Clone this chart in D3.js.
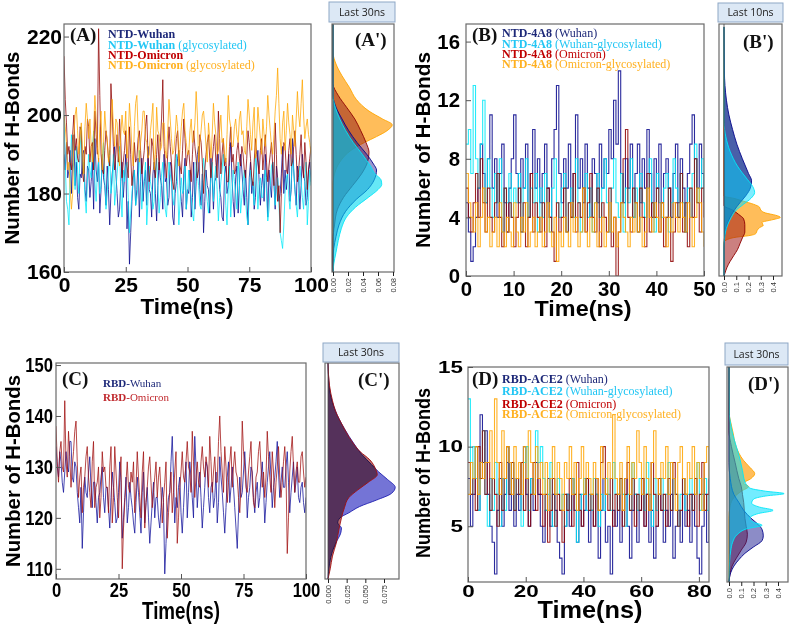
<!DOCTYPE html>
<html><head><meta charset="utf-8">
<script src="https://cdn.jsdelivr.net/npm/d3@7"></script>
<style>body{margin:0;background:#fff}</style>
</head><body><script>
// ===== DATA =====
const timeA = d3.range(0, 201).map(i => i * 0.5);
const timeB = d3.range(0, 101).map(i => i * 0.5);
const timeC = d3.range(0, 201).map(i => i * 0.5);
const timeD = d3.range(0, 101).map(i => i * 0.835);

const xTicksA = [0, 25, 50, 75, 100], yTicksA = [160, 180, 200, 220];
const xTicksB = [0, 10, 20, 30, 40, 50], yTicksB = [0, 4, 8, 12, 16];
const xTicksC = [0, 25, 50, 75, 100], yTicksC = [110, 120, 130, 140, 150];
const xTicksD = [0, 20, 40, 60, 80], yTicksD = [5, 10, 15];
const dTicksA = [0, 0.02, 0.04, 0.06, 0.08];
const dTicksB = [0, 0.1, 0.2, 0.3, 0.4];
const dTicksC = [0, 0.025, 0.05, 0.075];
const dTicksD = [0, 0.1, 0.2, 0.3, 0.4];

// Panel A: NTD H-bonds
const ntdWuhan = [190,186,193,184,186,191,180,188,195,182,188,179,176,185,184,190,191,181,178,187,186,
 179,183,188,176,194,186,183,189,175,181,190,184,182,177,187,181,172,180,185,188,
 192,185,180,174,176,183,188,179,184,190,171,178,162,170,178,184,186,177,181,189,
 174,183,189,178,183,186,177,192,181,180,174,185,188,180,173,182,188,184,182,176,
 190,183,184,177,179,188,187,174,172,180,183,189,191,182,178,174,185,189,176,181,
 180,186,174,179,188,176,183,190,192,181,177,185,170,178,186,182,181,175,189,184,
 176,183,184,190,190,181,179,174,173,185,187,180,182,188,193,184,178,174,184,187,
 175,182,190,186,181,177,186,179,172,184,188,180,183,176,179,187,191,183,177,182,
 185,178,190,184,174,186,182,179,188,183,176,187,184,178,180,185,192,180,186,181,
 185,190,178,181,194,186,181,177,187,184,176,182,190,185,183,177,179,186,188,183];
const ntdWuhanGly = [200,188,178,176,172,185,195,190,186,181,192,186,180,191,197,185,188,179,175,184,190,
 186,184,191,196,183,178,185,188,180,182,189,193,184,176,180,186,191,180,183,190,
 177,181,185,189,192,180,174,186,183,187,188,179,170,175,180,184,186,177,179,182,
 191,184,176,181,184,188,172,178,187,183,181,176,178,185,189,182,175,179,185,188,
 180,176,174,181,188,185,183,179,177,186,190,182,172,178,184,180,181,187,176,180,
 186,181,179,175,173,180,188,185,182,177,176,183,189,186,181,178,175,180,184,188,
 178,184,187,181,173,179,183,186,190,185,177,172,181,187,174,180,186,183,180,176,
 188,183,175,179,183,186,179,174,172,180,186,184,181,177,190,185,176,182,184,179,
 179,183,186,180,173,176,182,187,188,183,177,181,184,178,170,168,166,172,180,184,
 185,179,176,183,189,186,181,177,174,180,187,183,179,176,183,188,172,178,186,182];
const ntdOmicron = [215,204,198,190,192,188,186,195,200,191,194,189,188,197,196,185,183,192,190,199,197,
 188,192,193,186,201,195,190,222,205,190,186,185,191,196,193,189,187,208,201,192,
 186,190,195,188,199,193,184,188,191,196,187,184,197,190,182,186,193,188,189,194,
 196,191,185,188,191,197,200,190,183,186,194,192,188,184,190,195,186,193,199,209,
 192,188,184,190,197,192,188,183,181,189,194,196,190,187,185,191,199,194,187,190,
 191,187,183,190,196,192,189,184,186,195,193,188,180,186,190,193,195,189,184,188,
 192,195,188,184,201,194,185,190,194,187,189,183,183,192,197,188,190,185,186,191,
 193,189,187,192,190,186,184,189,196,193,189,184,182,188,194,190,188,185,191,194,
 186,190,195,188,183,187,190,193,187,182,198,190,178,182,170,180,188,193,192,186,
 185,191,194,187,188,192,196,190,183,186,190,195,187,184,193,188,181,186,189,192];
const ntdOmicronGly = [200,197,193,186,188,181,176,180,195,200,202,196,190,194,198,191,185,197,203,199,194,
 199,192,188,196,205,199,192,188,197,201,186,193,201,196,194,188,190,196,204,197,
 192,199,198,191,187,195,200,196,195,201,189,194,203,198,191,187,197,203,205,196,
 188,193,196,201,201,194,193,189,190,196,199,203,186,190,202,196,195,191,192,198,
 198,191,189,196,204,199,194,190,191,195,200,197,187,192,197,201,203,196,193,190,
 190,196,199,193,194,198,206,200,188,193,196,200,201,197,192,188,198,194,189,195,
 203,198,195,190,191,196,200,193,194,190,188,195,205,199,197,192,192,197,199,195,
 193,199,201,195,196,191,190,197,204,200,195,191,198,202,189,194,202,198,194,190,
 199,195,192,197,205,200,196,192,190,195,201,205,212,203,194,190,198,201,191,196,
 203,198,195,190,200,196,192,199,206,200,197,203,209,200,194,197,199,195,193,190];

// Panel B: NTD-4A8 H-bonds
const b4a8Wuhan = [5,3,1,2,4,6,9,7,5,8,11,
 6,8,4,7,9,5,3,6,8,11,
 7,5,8,6,9,4,7,10,6,8,
 5,7,9,6,4,8,10,13,7,5,
 8,6,9,4,7,11,6,8,5,9,
 6,4,8,7,5,9,6,8,7,10,
 8,12,9,14,7,5,8,6,9,4,
 7,9,5,8,6,10,7,4,8,6,
 9,5,7,8,6,4,7,9,5,8,
 6,3,7,9,11,8,6,9,7,6];
const b4a8WuhanGly = [9,10,7,13,8,6,9,12,5,8,6,
 4,7,5,8,3,6,5,7,4,6,
 5,7,3,6,8,4,6,5,7,3,
 6,4,7,5,3,6,8,5,4,6,
 7,3,5,6,4,8,5,3,6,7,
 4,6,3,5,7,4,6,8,5,3,
 6,8,5,4,7,3,6,5,8,4,
 6,3,7,5,4,6,8,5,3,7,
 5,4,6,7,3,5,8,6,4,7,
 5,3,6,4,7,9,5,6,8,5];
const b4a8Omicron = [6,4,3,5,7,4,8,5,3,6,4,
 3,5,7,4,2,6,3,5,4,2,
 4,6,3,5,2,4,7,3,5,4,
 3,5,2,6,4,3,1,5,3,4,
 6,3,5,4,7,3,5,4,6,3,
 5,7,4,3,6,2,5,4,3,6,
 2,4,0,3,5,8,10,4,3,6,
 5,3,6,4,2,7,3,5,4,6,
 3,5,2,4,6,1,3,5,4,7,
 3,5,2,6,4,8,5,3,6,4];
const b4a8OmicronGly = [7,5,4,3,5,2,4,6,3,4,2,
 3,4,2,5,3,2,4,3,2,5,
 3,2,4,3,5,2,3,4,2,3,
 4,2,3,5,3,2,4,1,3,2,
 4,3,2,5,3,4,2,3,6,3,
 2,4,3,5,2,3,4,2,3,5,
 3,4,2,3,5,4,3,2,4,3,
 5,3,4,2,3,6,4,3,5,4,
 3,5,4,2,4,3,5,4,3,5,
 4,3,5,4,2,4,6,5,3,2];

// Panel C: RBD H-bonds
const rbdWuhan = [134,130,128,133,131,127,125,129,133,130,129,135,135,128,127,131,130,125,122,119,126,
 114,121,128,125,124,129,132,126,122,127,127,123,119,124,125,128,130,124,121,126,
 126,122,118,124,129,126,123,119,120,125,131,127,116,120,124,128,119,122,127,124,
 122,119,117,123,128,125,121,117,125,129,119,123,126,120,115,119,123,127,120,124,
 124,120,118,122,126,123,109,115,121,124,125,131,136,128,119,124,122,126,128,121,
 117,122,127,131,120,125,131,128,124,120,136,130,122,126,129,124,118,122,126,131,
 130,124,121,126,127,122,124,129,119,123,132,128,125,121,117,122,128,131,123,126,
 130,126,122,118,114,121,128,124,125,129,133,128,120,124,126,130,129,124,121,125,
 127,122,124,128,131,126,119,123,127,130,133,128,122,126,128,131,135,129,124,127,
 130,126,126,130,133,127,121,125,128,131,125,127,130,124,123,126,127,123,121,124];
const rbdOmicron = [138,131,127,133,135,130,129,143,131,128,137,132,126,130,133,137,139,131,124,128,130,
 121,126,128,132,134,128,125,122,131,135,122,126,127,130,120,124,133,129,130,126,
 126,121,130,134,119,124,134,129,124,120,128,132,110,118,123,127,131,126,125,129,
 127,131,121,126,133,128,124,120,129,133,118,123,126,130,132,127,122,125,128,131,
 124,128,130,125,119,124,127,131,116,121,125,129,121,125,129,133,115,120,126,129,
 133,128,127,131,135,130,129,125,137,131,124,128,131,127,126,131,134,130,128,132,
 130,126,136,131,125,129,132,127,127,135,140,133,129,125,134,130,123,127,131,134,
 126,130,133,129,128,124,121,126,139,133,130,126,125,129,132,135,127,123,122,128,
 129,133,135,130,126,129,124,128,137,132,128,125,133,129,122,127,130,134,128,124,
 127,131,134,129,113,120,129,133,136,130,125,129,131,127,127,132,133,129,126,128];

// Panel D: RBD-ACE2 H-bonds
const aceWuhan = [8,5,7,10,6,12,9,11,7,5,4,
 2,6,8,5,7,9,6,8,5,7,
 6,9,10,7,5,8,6,9,7,5,
 4,6,8,5,7,6,4,3,2,5,
 7,5,8,6,4,7,5,6,8,4,
 6,5,7,3,6,8,4,5,2,6,
 5,7,4,6,8,5,3,6,7,4,
 6,8,5,7,4,6,3,5,7,6,
 4,6,5,7,3,5,6,4,7,5,
 6,4,7,5,3,2,5,7,4,6];
const aceWuhanGly = [13,7,10,8,6,9,11,7,5,8,6,
 9,7,5,8,6,10,7,9,6,8,
 7,5,9,10,6,8,7,11,9,10,
 8,6,7,9,5,7,8,6,7,5,
 7,6,8,7,4,6,7,8,6,7,
 6,8,7,5,7,6,8,7,6,9,
 7,6,8,7,5,7,6,9,7,6,
 8,7,6,9,7,5,8,6,7,8,
 6,7,9,6,8,7,5,7,8,6,
 7,8,6,7,9,6,7,8,6,7];
const aceOmicron = [9,7,8,6,10,8,11,7,9,6,8,
 7,5,9,6,8,10,7,9,6,8,
 7,9,6,8,5,7,9,6,8,7,
 5,7,4,6,8,5,7,6,4,7,
 6,8,5,7,9,6,5,7,8,6,
 7,5,8,6,9,10,7,6,8,5,
 7,6,8,5,7,9,6,8,5,7,
 6,8,5,7,6,9,7,5,8,6,
 7,5,8,6,9,7,5,6,8,7,
 5,7,6,8,5,7,9,6,7,8];
const aceOmicronGly = [7,9,8,10,7,9,8,9,9,11,8,
 13,9,7,11,8,10,9,7,10,8,
 9,7,10,8,11,9,7,10,8,9,
 7,9,6,8,10,7,9,8,6,9,
 8,10,7,9,6,8,10,7,9,8,
 7,9,8,6,10,8,7,9,8,12,
 8,7,9,6,8,10,7,9,8,11,
 9,7,10,8,6,9,11,8,7,9,
 8,10,7,9,8,6,9,10,8,7,
 9,8,10,7,9,8,6,9,10,8];

// Density profiles [H-bond value, density]
const densA_orange = [[223,0],[216,0],[213,0.004],[210,0.012],[207,0.022],[204,0.031],[201,0.048],[199,0.066],[197.5,0.079],[196,0.072],[194.5,0.058],[193,0.042],[191,0.024],[188,0.009],[185,0.002],[182,0],[160,0]];
const densA_red = [[223,0],[208,0],[205,0.007],[202,0.018],[199,0.029],[196,0.037],[193,0.044],[190.5,0.048],[188,0.046],[185,0.038],[182,0.026],[179,0.014],[176,0.006],[172,0.002],[168,0],[160,0]];
const densA_navy = [[223,0],[205,0],[202,0.004],[199,0.012],[196,0.021],[193,0.032],[190,0.045],[187.5,0.054],[186,0.058],[183.5,0.055],[181,0.046],[178.5,0.031],[175.5,0.017],[172,0.008],[169,0.004],[166,0.001],[163,0],[160,0]];
const densA_cyan = [[223,0],[205,0],[202,0.003],[199,0.009],[196,0.017],[193,0.027],[190,0.039],[187,0.05],[185,0.056],[183.5,0.064],[182.3,0.065],[181,0.06],[179,0.047],[176.5,0.03],[174,0.018],[171,0.011],[168,0.007],[165,0.004],[162,0.001],[160,0]];

const densB_navy = [[17,0],[14,0.003],[13,0.008],[12,0.02],[11,0.04],[10,0.07],[9,0.105],[8,0.15],[7,0.2],[6.5,0.225],[6,0.215],[5.5,0.18],[5,0.13],[4.5,0.085],[4,0.05],[3.5,0.025],[3,0.01],[2.5,0.003],[2,0],[0,0]];
const densB_cyan = [[17,0],[10.5,0],[9.5,0.015],[8.5,0.05],[7.5,0.11],[6.6,0.19],[6.1,0.235],[5.7,0.25],[5.3,0.22],[4.9,0.16],[4.5,0.1],[4,0.06],[3.5,0.03],[3,0.012],[2.5,0.004],[2,0],[0,0]];
const densB_orange = [[17,0],[5.45,0],[5.3,0.08],[5.1,0.16],[4.9,0.24],[4.7,0.29],[4.5,0.3],[4.3,0.34],[4.15,0.42],[4.0,0.46],[3.85,0.4],[3.65,0.31],[3.45,0.32],[3.3,0.29],[3.1,0.27],[2.9,0.26],[2.75,0.2],[2.65,0.1],[2.5,0.03],[2.3,0],[0,0]];
const densB_red = [[17,0],[4.8,0],[4.5,0.07],[4.2,0.12],[3.9,0.16],[3.5,0.17],[3.0,0.17],[2.6,0.15],[2.2,0.13],[1.8,0.11],[1.4,0.08],[1.0,0.05],[0.6,0.025],[0.2,0.008],[0,0]];

const densC_navy = [[150.4,0],[147,0.001],[144.4,0.003],[141,0.01],[137.5,0.022],[134.5,0.035],[132.5,0.045],[130.5,0.058],[129,0.068],[127.5,0.08],[126,0.09],[124.8,0.085],[123.5,0.065],[122.2,0.042],[121,0.028],[120,0.016],[119,0.013],[118,0.018],[117,0.017],[115.5,0.012],[113.5,0.006],[111,0.002],[108,0]];
const densC_red = [[150.4,0],[146,0.002],[143,0.006],[141,0.01],[138,0.02],[135,0.032],[133,0.043],[131.4,0.056],[129.5,0.064],[128.5,0.066],[127,0.054],[125.5,0.04],[124,0.028],[122,0.022],[120,0.018],[118,0.015],[115,0.011],[112.5,0.006],[110,0.003],[108,0]];

const densD_orange = [[15,0],[12.2,0],[11.5,0.015],[10.8,0.035],[10.2,0.05],[9.6,0.08],[9.15,0.117],[8.7,0.17],[8.3,0.21],[8.0,0.18],[7.7,0.12],[7.5,0.16],[7.2,0.1],[6.8,0.04],[6.3,0.01],[5.5,0],[1.5,0]];
const densD_red = [[15,0],[11,0],[10,0.02],[9,0.05],[8,0.08],[7.5,0.1],[7,0.11],[6.5,0.12],[6,0.125],[5.5,0.13],[5,0.14],[4.5,0.15],[4,0.14],[3.5,0.1],[3,0.06],[2.5,0.025],[2,0.008],[1.5,0]];
const densD_navy = [[15,0],[9,0],[8,0.01],[7,0.04],[6.5,0.08],[6,0.12],[5.5,0.18],[5.1,0.24],[4.8,0.27],[4.4,0.28],[4.1,0.27],[3.7,0.2],[3.3,0.13],[2.9,0.08],[2.5,0.04],[2.1,0.015],[1.5,0]];
const densD_cyan = [[15,0],[12,0.003],[11.6,0.01],[10.8,0.03],[10,0.06],[9.2,0.09],[8.5,0.11],[7.8,0.13],[7.4,0.17],[7.2,0.3],[7.05,0.45],[6.9,0.3],[6.7,0.2],[6.45,0.185],[6.2,0.25],[6.0,0.36],[5.8,0.24],[5.5,0.17],[5.25,0.2],[5.06,0.27],[4.85,0.15],[4.5,0.07],[4,0.03],[3.5,0.015],[2.8,0.005],[1.5,0]];

// Legend labels [bold part, normal part]
const legendA = [["NTD-Wuhan",""],["NTD-Wuhan"," (glycosylated)"],["NTD-Omicron",""],["NTD-Omicron"," (glycosylated)"]];
const legendB = [["NTD-4A8"," (Wuhan)"],["NTD-4A8"," (Wuhan-glycosylated)"],["NTD-4A8"," (Omicron)"],["NTD-4A8"," (Omicron-glycosylated)"]];
const legendC = [["RBD-","Wuhan"],["RBD-","Omicron"]];
const legendD = [["RBD-ACE2"," (Wuhan)"],["RBD-ACE2"," (Wuhan-glycosylated)"],["RBD-ACE2"," (Omicron)"],["RBD-ACE2"," (Omicron-glycosylated)"]];

// ===== STYLE =====
const C_NAVY = "#06068c", C_CYAN = "#00e8f8", C_RED = "#8e0000", C_ORANGE = "#ffa500";
const T_NAVY = "#1d2878", T_CYAN = "#22c6f4", T_RED = "#c00000", T_ORANGE = "#ffb020";
const SANS = "'Liberation Sans', Arial, sans-serif";
const SERIF = "'Liberation Serif', 'Times New Roman', serif";

const svg = d3.select("body").append("svg").attr("width", 790).attr("height", 629);
svg.append("rect").attr("width", 790).attr("height", 629).attr("fill", "#fff");

const panels = [
 { id: "A", left: 64, right: 311, top: 24, bottom: 272, xDomain: [0, 100], yDomain: [160, 223.2],
   xTicks: xTicksA, yTicks: yTicksA, times: timeA, step: false, fs: 21, sx: 1, xPad: 5, yPad: 2, lw: 0.9,
   series: [[ntdWuhan, C_NAVY], [ntdWuhanGly, C_CYAN], [ntdOmicron, C_RED], [ntdOmicronGly, C_ORANGE]],
   ylabel: { x: 18.5, y: 148, len: 193, fs: 20.5 }, xlabel: { x: 187, y: 314, len: 93, fs: 22 },
   plabel: { t: "(A)", x: 70, y: 41 }, legend: { rows: legendA, x: 108, y: [37.5, 48.5, 58.5, 69], fs: 12 },
   dens: { left: 332, right: 394, zero: 333, maxV: 0.08, maxX: 393, ticks: dTicksA, fmt: ".2f",
     plabel: { t: "(A')", x: 355, y: 46 }, title: { x: 329, y: 2, w: 66, h: 20, t: "Last 30ns" }, blend: "normal",
     curves: [[densA_orange, "#ffa31a", C_ORANGE, 0.72], [densA_red, "#8b1010", C_RED, 0.5], [densA_navy, "#1a1a90", C_NAVY, 0.45], [densA_cyan, "#00d8f0", C_CYAN, 0.6]] } },
 { id: "B", left: 466, right: 704, top: 24, bottom: 276, xDomain: [0, 50], yDomain: [0, 17.2],
   xTicks: xTicksB, yTicks: yTicksB, times: timeB, step: true, fs: 21, sx: 0.97, xPad: 5, yPad: 6, lw: 1.1,
   series: [[b4a8Wuhan, C_NAVY], [b4a8WuhanGly, C_CYAN], [b4a8Omicron, C_RED], [b4a8OmicronGly, C_ORANGE]],
   ylabel: { x: 430, y: 150, len: 196, fs: 20.5 }, xlabel: { x: 583, y: 316, len: 97, fs: 22 },
   plabel: { t: "(B)", x: 472, y: 41 }, legend: { rows: legendB, x: 502, y: [37, 48, 58, 68], fs: 12 },
   dens: { left: 719, right: 782, zero: 724, maxV: 0.4, maxX: 773, ticks: dTicksB, fmt: ".1f",
     plabel: { t: "(B')", x: 743, y: 48 }, title: { x: 718, y: 3, w: 65, h: 19, t: "Last 10ns" }, blend: "normal",
     curves: [[densB_orange, "#ffa31a", C_ORANGE, 0.72], [densB_red, "#a01818", C_RED, 0.55], [densB_navy, "#0c2a8c", C_NAVY, 0.75], [densB_cyan, "#00dcff", C_CYAN, 0.5]] } },
 { id: "C", left: 56, right: 306, top: 363, bottom: 579, xDomain: [0, 100], yDomain: [108, 150.4],
   xTicks: xTicksC, yTicks: yTicksC, times: timeC, step: false, fs: 20, sx: 0.83, xPad: 4, yPad: 3, lw: 0.9,
   series: [[rbdWuhan, "#10109a"], [rbdOmicron, "#a01010"]],
   ylabel: { x: 20, y: 471, len: 192, fs: 21 }, xlabel: { x: 181, y: 619, len: 78, fs: 24 },
   plabel: { t: "(C)", x: 62, y: 385 }, legend: { rows: legendC, x: 103, y: [387, 401], fs: 11 },
   dens: { left: 325, right: 399, zero: 328, maxV: 0.075, maxX: 384, ticks: dTicksC, fmt: ".3f",
     plabel: { t: "(C')", x: 358, y: 386 }, title: { x: 323, y: 343, w: 76, h: 19, t: "Last 30ns" }, blend: "multiply",
     curves: [[densC_navy, "#7474d6", "#2020b0", 1], [densC_red, "#bb6c6c", "#a01010", 1]] } },
 { id: "D", left: 468, right: 709, top: 367, bottom: 582, xDomain: [0, 83.5], yDomain: [1.5, 15],
   xTicks: xTicksD, yTicks: yTicksD, times: timeD, step: true, fs: 16, sx: 1.4, xPad: 4, yPad: 5, lw: 1.1,
   series: [[aceWuhan, C_NAVY], [aceWuhanGly, C_CYAN], [aceOmicron, C_RED], [aceOmicronGly, C_ORANGE]],
   ylabel: { x: 430, y: 473, len: 170, fs: 21 }, xlabel: { x: 590, y: 618, len: 105, fs: 23 },
   plabel: { t: "(D)", x: 472, y: 385 }, legend: { rows: legendD, x: 502, y: [383, 395, 408, 418], fs: 12 },
   dens: { left: 727, right: 788, zero: 729, maxV: 0.4, maxX: 778, ticks: dTicksD, fmt: ".1f",
     plabel: { t: "(D')", x: 748, y: 390 }, title: { x: 725, y: 343, w: 63, h: 22, t: "Last 30ns" }, blend: "normal",
     curves: [[densD_orange, "#ffa31a", C_ORANGE, 0.72], [densD_red, "#8b1010", C_RED, 0.5], [densD_navy, "#1a1a90", C_NAVY, 0.5], [densD_cyan, "#00dcff", C_CYAN, 0.55]] } }
];
const legendColors = [T_NAVY, T_CYAN, T_RED, T_ORANGE];
const legendColorsC = [T_NAVY, "#c0282d"];

function drawPanel(c) {
  const x = d3.scaleLinear().domain(c.xDomain).range([c.left, c.right]);
  const y = d3.scaleLinear().domain(c.yDomain).range([c.bottom, c.top]);
  const clipId = "clip" + c.id;
  const defs = svg.append("defs");
  defs.append("clipPath").attr("id", clipId).append("rect")
    .attr("x", c.left).attr("y", c.top).attr("width", c.right - c.left).attr("height", c.bottom - c.top);

  const lg = svg.append("g").attr("clip-path", `url(#${clipId})`);
  const line = d3.line().x((d, i) => x(c.times[i])).y(d => y(d))
    .curve(c.step ? d3.curveStepAfter : d3.curveLinear);
  c.series.forEach(([vals, col]) => {
    lg.append("path").datum(vals).attr("d", line).attr("fill", "none")
      .attr("stroke", col).attr("stroke-width", c.lw).attr("stroke-opacity", 0.85);
  });

  svg.append("rect").attr("x", c.left).attr("y", c.top).attr("width", c.right - c.left)
    .attr("height", c.bottom - c.top).attr("fill", "none").attr("stroke", "#6a6a6a").attr("stroke-width", 1.2);

  const xa = svg.append("g").attr("transform", `translate(0,${c.bottom})`)
    .call(d3.axisBottom(x).tickValues(c.xTicks).tickSizeInner(-5).tickSizeOuter(0).tickPadding(c.xPad).tickFormat(d3.format("d")));
  xa.select(".domain").remove();
  xa.selectAll("line").attr("stroke", "#555");
  xa.selectAll("text").attr("font-size", c.fs).attr("font-weight", "bold").attr("fill", "#000")
    .attr("font-family", SANS).attr("transform", `scale(${c.sx},1)`);

  const ya = svg.append("g").attr("transform", `translate(${c.left},0)`)
    .call(d3.axisLeft(y).tickValues(c.yTicks).tickSizeInner(-5).tickSizeOuter(0).tickPadding(c.yPad).tickFormat(d3.format("d")));
  ya.select(".domain").remove();
  ya.selectAll("line").attr("stroke", "#555");
  ya.selectAll("text").attr("font-size", c.fs).attr("font-weight", "bold").attr("fill", "#000")
    .attr("font-family", SANS).attr("x", -c.yPad / c.sx).attr("transform", `scale(${c.sx},1)`);

  svg.append("text").attr("transform", `translate(${c.ylabel.x},${c.ylabel.y}) rotate(-90)`)
    .attr("text-anchor", "middle").attr("font-family", SANS).attr("font-weight", "bold")
    .attr("font-size", c.ylabel.fs).attr("textLength", c.ylabel.len).attr("lengthAdjust", "spacingAndGlyphs")
    .text("Number of H-Bonds");
  svg.append("text").attr("x", c.xlabel.x).attr("y", c.xlabel.y)
    .attr("text-anchor", "middle").attr("font-family", SANS).attr("font-weight", "bold")
    .attr("font-size", c.xlabel.fs).attr("textLength", c.xlabel.len).attr("lengthAdjust", "spacingAndGlyphs")
    .text("Time(ns)");

  svg.append("text").attr("x", c.plabel.x).attr("y", c.plabel.y).attr("font-family", SERIF)
    .attr("font-weight", "bold").attr("font-size", 19).attr("fill", "#111").text(c.plabel.t);

  const cols = c.legend.rows.length === 2 ? legendColorsC : legendColors;
  c.legend.rows.forEach((r, i) => {
    const t = svg.append("text").attr("x", c.legend.x).attr("y", c.legend.y[i])
      .attr("font-family", SERIF).attr("font-size", c.legend.fs).attr("fill", cols[i]);
    t.append("tspan").attr("font-weight", "bold").text(r[0]);
    t.append("tspan").text(r[1]);
  });

  // density panel
  const d = c.dens;
  const dx = d3.scaleLinear().domain([0, d.maxV]).range([d.zero, d.maxX]);
  const dclip = "dclip" + c.id;
  defs.append("clipPath").attr("id", dclip).append("rect")
    .attr("x", d.left).attr("y", c.top).attr("width", d.right - d.left).attr("height", c.bottom - c.top);
  const dg = svg.append("g").attr("clip-path", `url(#${dclip})`).style("isolation", "isolate");
  const area = d3.area().y(p => y(p[0])).x0(dx(0)).x1(p => dx(p[1])).curve(d3.curveMonotoneY);
  const edge = d3.line().y(p => y(p[0])).x(p => dx(p[1])).curve(d3.curveMonotoneY);
  d.curves.forEach(([pts, fill, stroke, op]) => {
    dg.append("path").datum(pts).attr("d", area).attr("fill", fill).attr("fill-opacity", op)
      .style("mix-blend-mode", d.blend);
    dg.append("path").datum(pts).attr("d", edge).attr("fill", "none").attr("stroke", stroke)
      .attr("stroke-width", 1).attr("stroke-opacity", 0.9);
  });
  svg.append("rect").attr("x", d.left).attr("y", c.top).attr("width", d.right - d.left)
    .attr("height", c.bottom - c.top).attr("fill", "none").attr("stroke", "#6a6a6a").attr("stroke-width", 1.2);
  svg.append("line").attr("x1", dx(0)).attr("x2", dx(0)).attr("y1", c.top).attr("y2", c.bottom)
    .attr("stroke", "#444").attr("stroke-width", 0.8);

  const da = svg.append("g").attr("transform", `translate(0,${c.bottom})`)
    .call(d3.axisBottom(dx).tickValues(d.ticks).tickSize(4).tickFormat(d3.format(d.fmt)));
  da.select(".domain").remove();
  da.selectAll("line").attr("stroke", "#222");
  da.selectAll("text").attr("font-size", 7.5).attr("font-family", SANS).attr("fill", "#333")
    .attr("transform", "rotate(-90)").attr("text-anchor", "end").attr("x", -6).attr("y", 0).attr("dy", "0.32em");

  svg.append("text").attr("x", d.plabel.x).attr("y", d.plabel.y).attr("font-family", SERIF)
    .attr("font-weight", "bold").attr("font-size", 19).attr("fill", "#111").text(d.plabel.t);

  svg.append("rect").attr("x", d.title.x).attr("y", d.title.y).attr("width", d.title.w).attr("height", d.title.h)
    .attr("fill", "#dce8f5").attr("stroke", "#8ea7c6").attr("stroke-width", 1);
  svg.append("text").attr("x", d.title.x + d.title.w / 2).attr("y", d.title.y + d.title.h / 2)
    .attr("dy", "0.35em").attr("text-anchor", "middle").attr("font-family", "'Open Sans', 'Noto Sans', sans-serif")
    .attr("font-size", 10.5).attr("fill", "#222").text(d.title.t);
}

panels.forEach(drawPanel);
</script></body></html>
